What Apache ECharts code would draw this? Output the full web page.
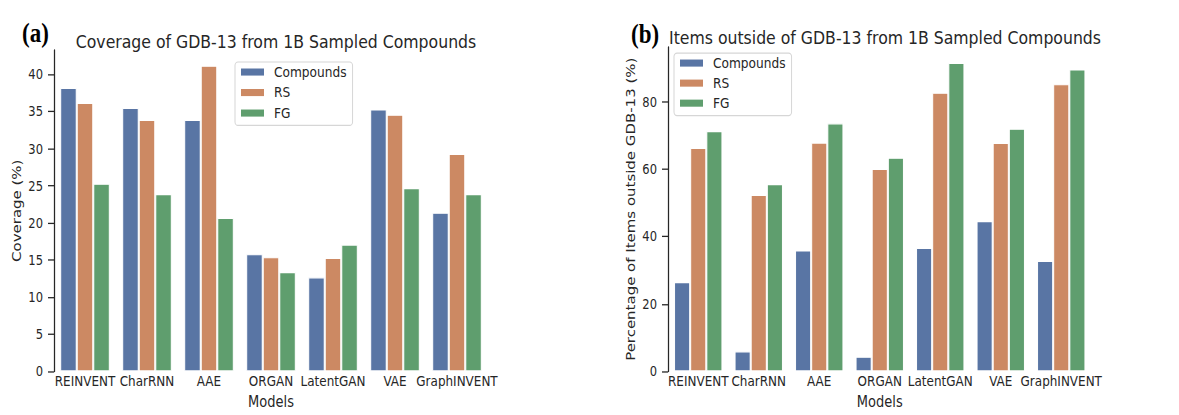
<!DOCTYPE html>
<html>
<head>
<meta charset="utf-8">
<script src="https://cdn.jsdelivr.net/npm/echarts@6/dist/echarts.min.js"></script>
<style>
html{margin:0;padding:0;background:#fff;}
body{margin:0;padding:0;background:#fff;width:1179px;height:415px;}
/* the reference figure is stretched vertically (~1.18x); reproduce that */
#chart{width:1179px;height:352px;transform:scaleY(1.179);transform-origin:0 0;}
</style>
</head>
<body>
<div id="chart"></div>
<script>
const categories = ['REINVENT', 'CharRNN', 'AAE', 'ORGAN', 'LatentGAN', 'VAE', 'GraphINVENT'];
const seriesNames = ['Compounds', 'RS', 'FG'];
const seriesColors = ['#5975a4', '#cc8963', '#5f9e6e'];

const coverageCompounds = [38.2, 35.5, 33.9, 15.8, 12.7, 35.3, 21.4];
const coverageRS        = [36.2, 33.9, 41.2, 15.4, 15.3, 34.6, 29.3];
const coverageFG        = [25.3, 23.9, 20.7, 13.4, 17.1, 24.7, 23.9];

const outsideCompounds = [26.5, 6.0, 35.9, 4.4, 36.7, 44.6, 32.8];
const outsideRS        = [66.3, 52.4, 67.9, 60.1, 82.7, 67.8, 85.2];
const outsideFG        = [71.3, 55.6, 73.6, 63.4, 91.5, 72.0, 89.6];

const coverageTicks = [0, 5, 10, 15, 20, 25, 30, 35, 40];
const outsideTicks = [0, 20, 40, 60, 80];
const coverageMax = 43.3;
const outsideMax = 96.2;

const FONT = 'DejaVu Sans';
const TXT = '#262626';

const chart = echarts.init(document.getElementById('chart'), null, {renderer: 'svg'});

function xAxisFor(gridIndex) {
  return {
    type: 'category', gridIndex: gridIndex, data: categories,
    axisLine: {show: false}, axisTick: {show: false},
    axisLabel: {interval: 0, margin: 2, color: TXT, fontFamily: FONT, fontSize: 12},
    name: 'Models', nameLocation: 'middle', nameGap: 16,
    nameTextStyle: {color: TXT, fontFamily: FONT, fontSize: 13}
  };
}
function yAxisFor(gridIndex, max, ticks, name, interval) {
  return {
    type: 'value', gridIndex: gridIndex, min: 0, max: max, interval: interval,
    splitLine: {show: false},
    axisLine: {show: true, lineStyle: {color: TXT, width: 1.25}},
    axisTick: {show: true, length: 6, lineStyle: {color: TXT, width: 1.1}, customValues: ticks},
    axisLabel: {margin: 11, color: TXT, fontFamily: FONT, fontSize: 11.5, customValues: ticks},
    name: name, nameLocation: 'middle', nameGap: 31, nameRotate: 90,
    nameTextStyle: {color: TXT, fontFamily: FONT, fontSize: 12.7}
  };
}
function barSeries(name, data, idx, gridIdx) {
  return {
    type: 'bar', name: name, data: data,
    xAxisIndex: gridIdx, yAxisIndex: gridIdx,
    barCategoryGap: '20%', barGap: '0%',
    itemStyle: {color: seriesColors[idx], borderColor: '#ffffff', borderWidth: 1},
    emphasis: {disabled: true},
    animation: false
  };
}
function legendFor(left, top, gap) {
  return {
    left: left, top: top, orient: 'vertical',
    data: seriesNames, icon: 'rect', itemWidth: 23, itemHeight: 6, itemGap: gap,
    padding: [2, 6, 4, 6],
    borderColor: '#d6d6d6', borderWidth: 1, borderRadius: 3,
    backgroundColor: 'rgba(255,255,255,0.8)',
    itemStyle: {borderWidth: 0},
    textStyle: {color: TXT, fontFamily: FONT, fontSize: 12.2, lineHeight: 13, padding: [0, 0, 0, 5]},
    selectedMode: false
  };
}

const option = {
  backgroundColor: '#ffffff',
  animation: false,
  title: [
    {text: 'Coverage of GDB-13 from 1B Sampled Compounds', left: 271, top: 21, textAlign: 'center',
     textStyle: {fontFamily: FONT, fontSize: 15.7, fontWeight: 'normal', color: TXT, lineHeight: 18}},
    {text: 'Items outside of GDB-13 from 1B Sampled Compounds', left: 880, top: 18, textAlign: 'center',
     textStyle: {fontFamily: FONT, fontSize: 15.7, fontWeight: 'normal', color: TXT, lineHeight: 18}},
    {text: '(a)', left: 17, top: 11,
     textStyle: {fontFamily: 'Liberation Serif', fontSize: 23, fontWeight: 'bold', color: '#000'}},
    {text: '(b)', left: 626, top: 12,
     textStyle: {fontFamily: 'Liberation Serif', fontSize: 23, fontWeight: 'bold', color: '#000'}}
  ],
  legend: [legendFor(235, 52.6, 4.4), legendFor(674, 45, 4)],
  grid: [
    {left: 54, top: 42.4, width: 434, height: 279.1},
    {left: 668, top: 39.9, width: 423.5, height: 281.6}
  ],
  xAxis: [xAxisFor(0), xAxisFor(1)],
  yAxis: [
    yAxisFor(0, coverageMax, coverageTicks, 'Coverage (%)', 5),
    yAxisFor(1, outsideMax, outsideTicks, 'Percentage of Items outside GDB-13 (%)', 20)
  ],
  series: [
    barSeries('Compounds', coverageCompounds, 0, 0),
    barSeries('RS', coverageRS, 1, 0),
    barSeries('FG', coverageFG, 2, 0),
    barSeries('Compounds', outsideCompounds, 0, 1),
    barSeries('RS', outsideRS, 1, 1),
    barSeries('FG', outsideFG, 2, 1)
  ]
};
chart.setOption(option);
</script>
</body>
</html>
